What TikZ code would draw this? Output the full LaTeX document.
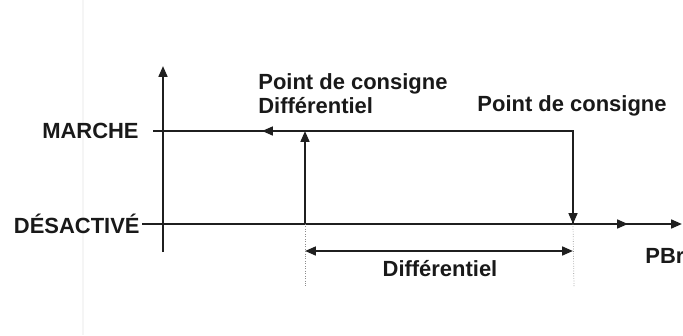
\documentclass[tikz,border=0pt]{standalone}
\usepackage{fontspec}
\setmainfont{Liberation Sans}
\usetikzlibrary{arrows.meta,positioning}

\begin{document}
\begin{tikzpicture}[x=0.02cm,y=-0.02cm,>={Triangle[length=6.2pt,width=5pt]}]
  \tikzstyle{lbl}=[inner sep=0pt,text=black!90,font=\bfseries\fontsize{12.5}{13.6}\selectfont]
  \tikzstyle{trait}=[line width=1.25pt,draw=black!88]
  \tikzstyle{repere}=[densely dotted,line width=0.4pt,draw=black!45]
  \useasboundingbox (0,0) rectangle (683,335);
  \draw[gray!8,line width=0.6pt] (83,0) -- (83,335);
  % axes and levels
  \coordinate (ybas) at (163,252);
  \coordinate (yhaut) at (163,66);
  \coordinate (marG) at (153,131);
  \coordinate (marD) at (573,131);
  \coordinate (marF) at (262,131);
  \coordinate (desG) at (142,224);
  \coordinate (desD) at (682,224);
  \coordinate (desF) at (628,224);
  \coordinate (enc) at (305,224);
  \coordinate (encH) at (305,131);
  \coordinate (con) at (573,224);
  \coordinate (cotG) at (305,251);
  \coordinate (cotD) at (573,251);
  \coordinate (encB) at (305,286);
  \coordinate (conB) at (574,286);
  \node[lbl,anchor=east] (marche) at (139,131) {MARCHE};
  \node[lbl,anchor=east] (desactive) at (140,224) {DÉSACTIVÉ};
  \node[lbl,anchor=west,align=left] (pcdiff) at (258,94) {Point de consigne\\Différentiel};
  \node[lbl] (pc) at (572,106) {Point de consigne};
  \node[lbl] (diff) at (440,269) {Différentiel};
  \node[lbl,anchor=west] (pbr) at (645,256) {PBr};
  \draw[trait,->] (ybas) -- (yhaut);
  \draw[trait] (marG) -- (marD) -- (con);
  \draw[trait,->] (marD) -- (con);
  \draw[trait,->] ([xshift=20]marF) -- (marF);
  \draw[trait,->] (desG) -- (desD);
  \draw[trait,->] (desG) -- (desF);
  \draw[trait,->] (enc) -- (encH);
  \draw[trait,<->] (cotG) -- (cotD);
  \draw[repere] (enc) -- (encB);
  \draw[repere] (con) -- (conB);
\end{tikzpicture}
\end{document}
